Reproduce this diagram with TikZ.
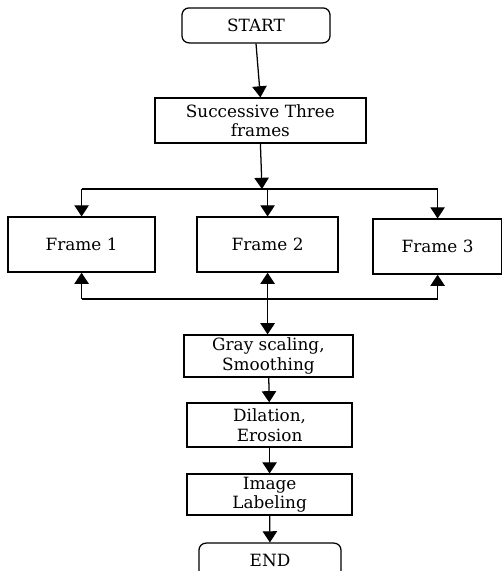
\documentclass[tikz,border=0pt]{standalone}
\usepackage{fontspec}
\setmainfont{DejaVu Serif}
\usetikzlibrary{arrows.meta,positioning}

\begin{document}
\begin{tikzpicture}[
  every node/.style={font=\fontsize{12}{14}\selectfont},
  fcbox/.style={draw,line width=0.9pt,align=center,inner sep=1pt},
  fcterm/.style={fcbox,rounded corners=5pt},
  arr/.style={-{Triangle[width=0.36cm,length=0.28cm]},line width=0.9pt},
  line width=0.9pt,
]
  \useasboundingbox (0,0) rectangle (12.55,14.275);

  % start and input
  \node[fcterm,minimum width=3.7cm,minimum height=0.875cm] (start) at (6.40,13.64) {START};
  \node[fcbox,minimum width=5.275cm,minimum height=1.125cm] (succ) at (6.51,11.26) {Successive Three\\frames};

  % three frames
  \node[fcbox,minimum width=3.675cm,minimum height=1.375cm] (frame1) at (2.04,8.16) {Frame 1};
  \node[fcbox,minimum width=3.525cm,minimum height=1.375cm] (frame2) at (6.69,8.16) {Frame 2};
  \node[fcbox,minimum width=3.225cm,minimum height=1.375cm] (frame3) at (10.94,8.11) {Frame 3};

  % processing steps
  \node[fcbox,minimum width=4.225cm,minimum height=1.05cm] (gray) at (6.71,5.375) {Gray scaling,\\Smoothing};
  \node[fcbox,minimum width=4.125cm,minimum height=1.1cm] (dil) at (6.74,3.65) {Dilation,\\Erosion};
  \node[fcbox,minimum width=4.125cm,minimum height=1.025cm] (lab) at (6.74,1.91) {Image\\Labeling};
  \node[fcterm,minimum width=3.55cm,minimum height=0.875cm] (end) at (6.75,0.26) {END};

  % junctions
  \coordinate (split) at (6.55,9.55);
  \coordinate (join) at (6.70,6.80);

  \draw[arr] (start.south) -- (succ.north);
  \draw[arr] (succ.south) -- (split);
  \draw (frame1.north |- split) -- (frame3.north |- split);
  \foreach \f in {frame1,frame2,frame3}
    \draw[arr] (\f.north |- split) -- (\f.north);

  \draw (frame1.south |- join) -- (frame3.south |- join);
  \foreach \f in {frame1,frame2,frame3}
    \draw[arr] (\f.south |- join) -- (\f.south);

  \draw[arr] (frame2.south |- join) -- (frame2.south |- gray.north);
  \draw[arr] (gray) -- (dil);
  \draw[arr] (dil) -- (lab);
  \draw[arr] (lab) -- (end);
\end{tikzpicture}
\end{document}
